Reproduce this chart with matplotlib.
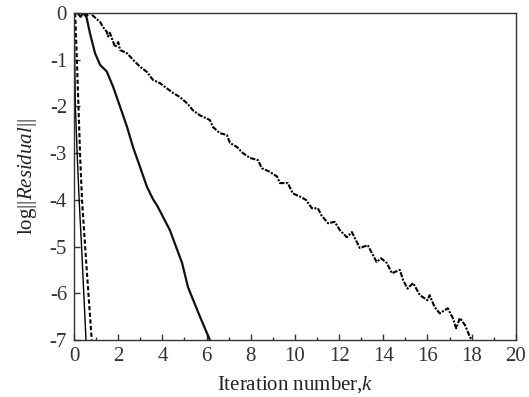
import matplotlib
matplotlib.use("Agg")
import matplotlib.pyplot as plt
from matplotlib.ticker import MultipleLocator

plt.rcParams["font.family"] = "Liberation Serif"
plt.rcParams["mathtext.fontset"] = "custom"
plt.rcParams["mathtext.rm"] = "Liberation Serif"
plt.rcParams["mathtext.it"] = "Liberation Serif:italic"

# Residual histories (log10 of residual norm vs. iteration number)
k_fast = [0.0, 0.03, 0.06, 0.14, 0.23, 0.34, 0.44, 0.54]
r_fast = [0.0, -1.0, -2.0, -3.0, -4.0, -5.0, -6.0, -7.0]

k_dash = [0.05, 0.12, 0.2, 0.27, 0.36, 0.5, 0.65, 0.8]
r_dash = [0.0, -0.9, -2.0, -3.0, -4.0, -5.0, -6.0, -7.0]

k_mid = [0.15, 0.3, 0.4, 0.5, 0.56, 0.72, 0.95, 1.18, 1.48, 1.77, 2.08,
         2.4, 2.67, 2.99, 3.3, 3.57, 3.76, 4.34, 4.89, 5.16, 5.7, 6.15]
r_mid = [0.0, -0.08, 0.0, -0.05, -0.08, -0.43, -0.86, -1.11, -1.25, -1.58,
         -2.0, -2.44, -2.87, -3.3, -3.72, -3.98, -4.12, -4.65, -5.35, -5.87,
         -6.5, -7.0]

k_slow = [0.45, 0.6, 0.72, 1.18, 1.31, 1.48, 1.54, 1.62, 1.86, 2.0, 2.08,
          2.4, 2.67, 2.99, 3.3, 3.57, 3.89, 4.2, 4.48, 4.8, 5.11, 5.38, 5.7,
          6.15, 6.29, 6.6, 6.92, 7.06, 7.38, 7.65, 7.96, 8.33, 8.5, 8.87,
          9.19, 9.32, 9.68, 9.9, 10.23, 10.5, 10.77, 11.04, 11.2, 11.5, 11.8,
          12.04, 12.35, 12.58, 12.8, 12.94, 13.3, 13.53, 13.7, 13.9, 14.16,
          14.39, 14.75, 14.9, 15.1, 15.35, 15.66, 16.0, 16.1, 16.33, 16.56,
          16.92, 17.15, 17.3, 17.47, 17.7, 17.92, 18.0]
r_slow = [0.0, -0.05, 0.0, -0.19, -0.3, -0.4, -0.5, -0.42, -0.73, -0.62,
          -0.79, -0.86, -1.0, -1.15, -1.26, -1.43, -1.5, -1.61, -1.71, -1.8,
          -1.93, -2.08, -2.19, -2.29, -2.44, -2.57, -2.61, -2.78, -2.87,
          -3.0, -3.1, -3.15, -3.32, -3.4, -3.5, -3.64, -3.64, -3.86, -3.93,
          -4.0, -4.18, -4.18, -4.33, -4.5, -4.47, -4.65, -4.8, -4.69, -4.9,
          -5.03, -4.97, -5.18, -5.33, -5.25, -5.35, -5.57, -5.5, -5.72, -5.9,
          -5.78, -6.04, -6.15, -6.04, -6.3, -6.43, -6.32, -6.53, -6.75,
          -6.53, -6.68, -6.93, -7.0]

fig = plt.figure(figsize=(5.29, 3.97), dpi=100)
ax = fig.add_axes([0.140, 0.1436, 0.835, 0.8234])

ax.plot(k_fast, r_fast, color="black", lw=1.0, ls="-")
ax.plot(k_dash, r_dash, color="black", lw=1.5, ls=(0, (2.0, 1.2)))
ax.plot(k_mid, r_mid, color="#111111", lw=1.6, ls="-")
ax.plot(k_slow, r_slow, color="black", lw=1.5, ls=(0, (2.5, 0.7, 1.0, 0.7)))

ax.set_xlim(0, 20)
ax.set_ylim(-7, 0)
ax.xaxis.set_major_locator(MultipleLocator(2))
ax.xaxis.set_minor_locator(MultipleLocator(1))
ax.yaxis.set_major_locator(MultipleLocator(1))
ax.set_yticklabels([f"{int(v)}" if v != 0 else "0" for v in ax.get_yticks()])

ax.tick_params(which="both", direction="in", top=False, right=False,
               labelsize=15, colors="#333333", width=1.0)
ax.tick_params(which="major", length=4.5, pad=5)
ax.tick_params(which="minor", length=2.3)
for sp in ax.spines.values():
    sp.set_color("#333333")
    sp.set_linewidth(1.0)

ax.set_xlabel(r"Iteration number,$\mathit{k}$", fontsize=15, color="#222222",
              labelpad=6)
ax.set_ylabel(r"log||$\mathit{Residual}$||", fontsize=15, color="#222222",
              labelpad=8)

fig.savefig("out.png", dpi=100)
